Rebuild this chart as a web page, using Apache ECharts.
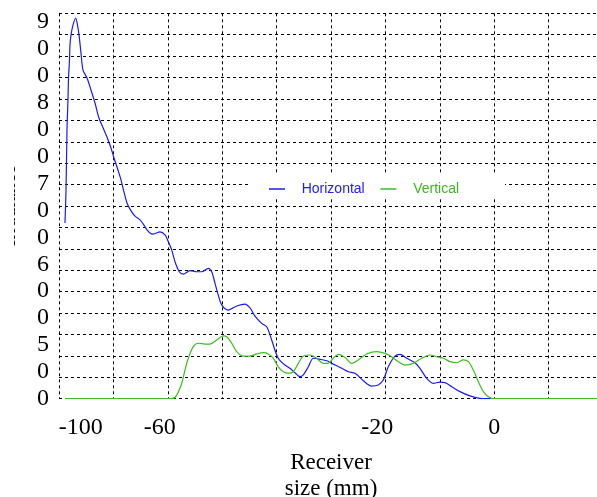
<!DOCTYPE html>
<html>
<head>
<meta charset="utf-8">
<script src="https://cdn.jsdelivr.net/npm/echarts@6/dist/echarts.min.js"></script>
<style>
html,body{margin:0;padding:0;background:#fff;}
#c{width:597px;height:497px;}
</style>
</head>
<body>
<div id="c"></div>
<script>
// ---- data ----
const seriesNames = ['Horizontal', 'Vertical'];

const horizX = [-78.90,-78.71,-78.53,-78.35,-78.25,-78.07,-77.98,-77.79,-77.43,-76.93,-76.60,-76.32,-75.96,-75.59,-74.85,-74.12,-73.38,-72.65,-71.73,-71.18,-70.44,-69.89,-69.16,-68.60,-68.05,-67.50,-66.76,-66.03,-65.11,-64.38,-63.82,-63.27,-62.72,-61.43,-60.51,-59.96,-59.28,-58.68,-57.89,-57.15,-55.92,-54.69,-53.77,-52.56,-51.93,-51.32,-50.72,-50.09,-48.88,-47.33,-45.81,-44.89,-43.97,-42.74,-41.82,-40.90,-40.11,-39.50,-38.46,-37.54,-36.62,-35.70,-35.09,-34.17,-33.25,-32.02,-30.79,-29.87,-28.03,-26.82,-25.59,-24.06,-22.52,-21.31,-20.39,-19.47,-18.24,-17.32,-16.08,-14.56,-13.64,-12.41,-11.20,-9.96,-9.04,-7.81,-6.29,-4.45,-2.92,-1.38,0];
const horizY = [8.21,9.75,12.55,13.95,14.98,15.82,16.52,16.99,17.45,17.78,17.45,16.99,16.15,15.35,14.98,14.42,13.81,13.11,12.55,12.22,11.71,11.24,10.68,10.22,9.65,9.14,8.77,8.53,8.35,8.11,7.88,7.74,7.69,7.79,7.65,7.37,6.95,6.40,5.93,5.82,5.98,5.93,5.93,6.09,5.93,5.39,4.84,4.38,4.14,4.33,4.42,4.24,3.86,3.52,3.36,2.74,2.12,1.81,1.57,1.42,1.21,1.03,1.11,1.49,1.89,1.84,1.77,1.65,1.42,1.26,1.19,0.84,0.59,0.64,0.87,1.49,1.99,2.07,1.89,1.68,1.42,0.95,0.72,0.77,0.75,0.56,0.33,0.13,0.03,0,0];

const vertX = [-78.90,-59.28,-58.36,-57.44,-56.84,-56.23,-55.31,-54.39,-53.16,-52.24,-51.01,-49.80,-49.06,-48.25,-47.33,-46.12,-44.89,-43.66,-42.44,-41.53,-40.61,-39.69,-38.77,-37.85,-36.93,-36.01,-35.09,-33.86,-32.63,-31.42,-30.50,-29.58,-28.66,-27.43,-26.20,-24.99,-23.44,-21.60,-20.07,-18.84,-17.63,-16.40,-14.87,-13.33,-11.80,-10.57,-9.36,-8.13,-6.89,-5.68,-4.76,-3.84,-2.92,-2.00,-1.08,-0.15,20];
const vertY = [0,0,0.17,0.72,1.34,1.89,2.43,2.59,2.55,2.55,2.74,2.93,2.87,2.59,2.20,1.99,1.99,2.09,2.15,2.09,1.89,1.49,1.26,1.19,1.26,1.65,1.99,2.04,1.89,1.65,1.65,1.89,2.07,1.93,1.65,1.81,2.09,2.20,2.12,1.96,1.73,1.57,1.65,1.89,2.04,1.96,1.89,1.73,1.68,1.81,1.73,1.34,0.79,0.33,0.09,0,0];

// tick labels as printed in the figure
const xTickLabels = ['-100', '-60', '-20', '0'];
const xTickValues = [-76, -61.5, -21.5, 0];
const yTickLabels = ['0','0','5','0','0','6','0','0','7','0','0','8','0','0','9']; // bottom -> top

const xTitle = 'Receiver\nsize (mm)';
const yTitle = 'Irradiance';

// ---- chart ----
const zip = (xs, ys) => xs.map((x, i) => [x, ys[i]]);
const chart = echarts.init(document.getElementById('c'), null, {renderer: 'canvas'});
const serif = 'Liberation Serif, Times New Roman, serif';
const dashed = {show: true, lineStyle: {color: '#000', type: [3, 3], width: 1}};

chart.setOption({
  animation: false,
  backgroundColor: '#fff',
  grid: {left: 59, right: -6, top: 13.3, bottom: 98.3, containLabel: false, outerBoundsMode: 'none'},
  legend: {
    data: [
      {name: seriesNames[0], textStyle: {color: '#2020ff'}},
      {name: seriesNames[1], textStyle: {color: '#3cb81e'}}
    ],
    left: 251, top: 173,
    backgroundColor: '#fff',
    padding: [8, 46, 1, 18],
    itemGap: 15.7,
    itemWidth: 16, itemHeight: 1.5,
    icon: 'rect',
    textStyle: {fontFamily: 'Liberation Sans, Arial, sans-serif', fontSize: 14, lineHeight: 16, padding: [0, 0, 0, 11.7]}
  },
  xAxis: [
    {
      type: 'value', min: -80, max: 20, interval: 10,
      axisLine: {show: false}, axisTick: {show: false}, axisLabel: {show: false},
      splitLine: dashed,
      name: xTitle, nameLocation: 'middle', nameGap: 51,
      nameTextStyle: {fontFamily: serif, fontSize: 23, lineHeight: 26, color: '#000'}
    },
    {
      type: 'value', position: 'bottom', min: -80, max: 20, interval: 0.5,
      axisLine: {show: false}, axisTick: {show: false}, splitLine: {show: false},
      axisLabel: {
        margin: 17, fontFamily: serif, fontSize: 24, color: '#000',
        formatter: v => {
          const i = xTickValues.findIndex(t => Math.abs(t - v) < 1e-6);
          return i >= 0 ? xTickLabels[i] : '';
        }
      }
    }
  ],
  yAxis: [
    {
      type: 'value', position: 'left', min: 0, max: 18, interval: 1,
      axisLine: {show: false}, axisTick: {show: false}, axisLabel: {show: false},
      splitLine: dashed,
      name: yTitle, nameLocation: 'middle', nameRotate: 90, nameGap: 39,
      nameTextStyle: {fontFamily: serif, fontSize: 20, color: '#000'}
    },
    {
      type: 'value', position: 'left', min: 0, max: 14.33, interval: 1,
      axisLine: {show: false}, axisTick: {show: false}, splitLine: {show: false},
      axisLabel: {
        margin: 10, fontFamily: serif, fontSize: 24, color: '#000',
        formatter: v => {
          const k = Math.round(v);
          return (Math.abs(k - v) < 1e-6 && yTickLabels[k] !== undefined) ? yTickLabels[k] : '';
        }
      }
    }
  ],
  graphic: [
    // clipping of the original figure (left of y title, bottom of x tick labels)
    {type: 'rect', z: 100, shape: {x: 0, y: 140, width: 14, height: 140}, style: {fill: '#fff'}},
    {type: 'rect', z: 100, shape: {x: 40, y: 435, width: 500, height: 10}, style: {fill: '#fff'}}
  ],
  series: [
    {
      name: seriesNames[0], type: 'line', xAxisIndex: 0, yAxisIndex: 0,
      data: zip(horizX, horizY), showSymbol: false, smooth: 0.3,
      lineStyle: {color: '#1a1aff', width: 1.2}, itemStyle: {color: '#1a1aff'}, z: 3
    },
    {
      name: seriesNames[1], type: 'line', xAxisIndex: 0, yAxisIndex: 0,
      data: zip(vertX, vertY), showSymbol: false, smooth: 0.3,
      lineStyle: {color: '#3cc020', width: 1.2}, itemStyle: {color: '#3cc020'}, z: 4
    }
  ]
});
</script>
</body>
</html>
